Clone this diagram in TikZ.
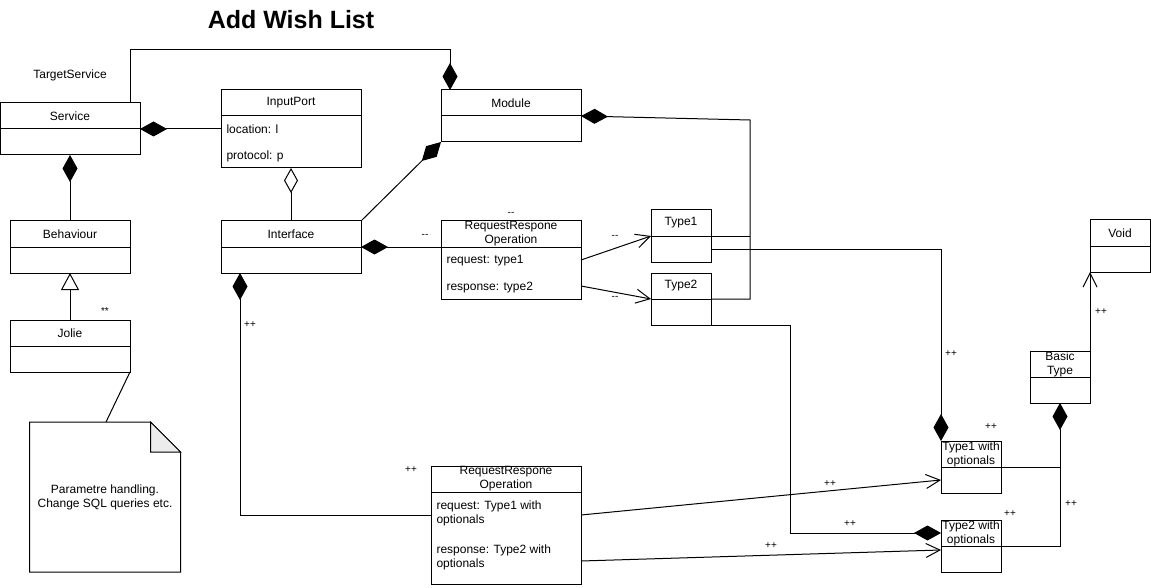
\documentclass[tikz,border=0pt]{standalone}
\usepackage{fontspec}
\setmainfont{Liberation Sans}
\usetikzlibrary{arrows.meta, positioning, calc}

\begin{document}
\begin{tikzpicture}[x=1pt, y=-1pt, line width=1pt]
\tikzset{
  cls/.style={draw, rectangle, inner sep=0pt, outer sep=0pt, minimum height=26pt, align=center, font=\fontsize{12}{14}\selectfont},
  attr/.style={inner sep=3pt, align=left, font=\fontsize{12}{14}\selectfont},
  mult/.style={inner sep=1pt, font=\fontsize{10}{12}\selectfont},
  comp/.style={-{Diamond[length=27pt,width=15pt]}},
  aggr/.style={-{Diamond[open,length=25pt,width=14pt]}},
  inh/.style={-{Triangle[open,length=17pt,width=18pt]}},
  assoc/.style={-{Straight Barb[length=14pt,width=14pt]}}
}
\useasboundingbox (0,0) rectangle (1151,588);

\node[font=\bfseries\fontsize{25}{30}\selectfont] (title) at (291,20) {Add Wish List};
\node[font=\fontsize{12}{14}\selectfont] (tgt) at (70,75) {TargetService};

% classes
\node[cls, minimum width=140pt, anchor=north west] (svc) at (0,103) {Service};
\node[cls, minimum width=140pt, below=0pt of svc] (svcb) {};
\node[cls, minimum width=140pt, anchor=north west] (inp) at (221,90) {InputPort};
\node[cls, minimum width=140pt, minimum height=52pt, below=0pt of inp] (inpb) {};
\node[cls, minimum width=140pt, anchor=north west] (mod) at (441,90) {Module};
\node[cls, minimum width=140pt, below=0pt of mod] (modb) {};
\node[cls, minimum width=120pt, anchor=north west] (beh) at (10,221) {Behaviour};
\node[cls, minimum width=120pt, below=0pt of beh] (behb) {};
\node[cls, minimum width=140pt, anchor=north west] (itf) at (221,221) {Interface};
\node[cls, minimum width=140pt, below=0pt of itf] (itfb) {};
\node[cls, minimum width=120pt, anchor=north west] (jol) at (10,320) {Jolie};
\node[cls, minimum width=120pt, below=0pt of jol] (jolb) {};
\node[cls, minimum width=140pt, anchor=north west] (rro) at (441,221) {RequestRespone\\Operation};
\node[cls, minimum width=140pt, minimum height=52pt, below=0pt of rro] (rrob) {};
\node[cls, minimum width=60pt, anchor=north west] (t1) at (651,210) {Type1};
\node[cls, minimum width=60pt, below=0pt of t1] (t1b) {};
\node[cls, minimum width=60pt, anchor=north west] (t2) at (651,273) {Type2};
\node[cls, minimum width=60pt, below=0pt of t2] (t2b) {};
\node[cls, minimum width=60pt, anchor=north west] (void) at (1090,220) {Void};
\node[cls, minimum width=60pt, below=0pt of void] (voidb) {};
\node[cls, minimum width=60pt, anchor=north west] (bs) at (1030,351) {Basic\\Type};
\node[cls, minimum width=60pt, below=0pt of bs] (bsb) {};
\node[cls, minimum width=60pt, anchor=north west] (t1o) at (941,441) {Type1 with\\optionals};
\node[cls, minimum width=60pt, below=0pt of t1o] (t1ob) {};
\node[cls, minimum width=60pt, anchor=north west] (t2o) at (941,520) {Type2 with\\optionals};
\node[cls, minimum width=60pt, below=0pt of t2o] (t2ob) {};
\node[cls, minimum width=150pt, anchor=north west] (rro2) at (431,466) {RequestRespone\\Operation};
\node[cls, minimum width=150pt, minimum height=92pt, below=0pt of rro2] (rro2b) {};

% attributes
\node[attr, anchor=west] (inpl) at ($(inpb.north west)+(2,13)$) {location: l};
\node[attr, anchor=west] (inpp) at ($(inpb.north west)+(2,40)$) {protocol: p};
\node[attr, anchor=west] (rroq) at ($(rrob.north west)+(2,14)$) {request: type1};
\node[attr, anchor=west] (rros) at ($(rrob.north west)+(2,41)$) {response: type2};
\node[attr, anchor=west] (rro2q) at ($(rro2b.north west)+(2,21)$) {request: Type1 with\\optionals};
\node[attr, anchor=west] (rro2s) at ($(rro2b.north west)+(2,65)$) {response: Type2 with\\optionals};

% note
\node[minimum width=150pt, minimum height=149pt, inner sep=0pt, align=center, font=\fontsize{12}{14}\selectfont] (note) at (105,497) {Parametre handling.\\Change SQL queries etc.};
\draw (note.north west) -- ($(note.north east)+(-30,0)$) -- ($(note.north east)+(0,30)$) -- (note.south east) -- (note.south west) -- cycle;
\filldraw[fill=gray!15] ($(note.north east)+(-30,0)$) -- ($(note.north east)+(-30,30)$) -- ($(note.north east)+(0,30)$) -- cycle;

% bends
\coordinate (k1) at (130,50);
\coordinate (k2) at (450,50);
\coordinate (k3) at (750,120);
\coordinate (k4) at (750,299);
\coordinate (k5) at (941,249);
\coordinate (k7) at (790,533);
\coordinate (k8) at (240,515);
\coordinate (k9) at (1060,546);

% connectors
\draw[comp] (svc.north -| k1) -- (k1) -- (k2) -- (mod.north -| k2);
\draw[comp] (inpb.west |- svc.south east) -- (svc.south east);
\draw[comp] (beh.north) -- (svcb.south);
\draw[inh] (jol.north) -- (behb.south);
\draw[aggr] (itf.north) -- (inpb.south);
\draw[comp] (itf.north east) -- (modb.south west);
\draw[comp] (rro.south west) -- (itf.south east);
\draw[assoc] ($(rrob.north east)+(0,13)$) -- (t1.south west);
\draw[assoc] ($(rrob.north east)+(0,39)$) -- (t2.south west);
\draw[comp] (t2.south east) -- (k4) -- (k3) -- (mod.south east);
\draw (t1.south east) -- (t1.south east -| k3);
\draw[comp] ($(t1b.north east)+(0,13)$) -- (k5) -- (t1o.north west);
\draw[comp] (t2b.south east) -- (t2b.south east -| k7) -- (k7) -- ($(t2o.north west)+(0,13)$);
\draw[comp] (rro2b.west |- k8) -- (k8) -- (itfb.south -| k8);
\draw[assoc] ($(rro2b.north east)+(0,23)$) -- ($(t1ob.north west)+(0,13)$);
\draw[assoc] ($(rro2b.north east)+(0,69)$) -- ($(t2ob.north west)+(0,4)$);
\draw[comp] (t2o.south east) -- (k9) -- (bsb.south);
\draw (t1o.south east) -- (t1o.south east -| k9);
\draw[assoc] (bs.north east) -- (voidb.south west);
\draw (jolb.south east) -- ($(note.north)+(1,0)$);

% multiplicities
\node[mult] (ma) at (105,311) {**};
\node[mult] (mb) at (425,236) {{-}{-}};
\node[mult] (mc) at (511,214) {{-}{-}};
\node[mult] (md) at (615,237) {{-}{-}};
\node[mult] (me) at (615,298) {{-}{-}};
\node[mult] (mf) at (250,325) {++};
\node[mult] (mg) at (411,470) {++};
\node[mult] (mh) at (951,354) {++};
\node[mult] (mi) at (991,427) {++};
\node[mult] (mj) at (1010,514) {++};
\node[mult] (mk) at (1071,504) {++};
\node[mult] (ml) at (1101,312) {++};
\node[mult] (mm) at (830,484) {++};
\node[mult] (mn) at (850,524) {++};
\node[mult] (mo) at (771,546) {++};
\end{tikzpicture}
\end{document}
